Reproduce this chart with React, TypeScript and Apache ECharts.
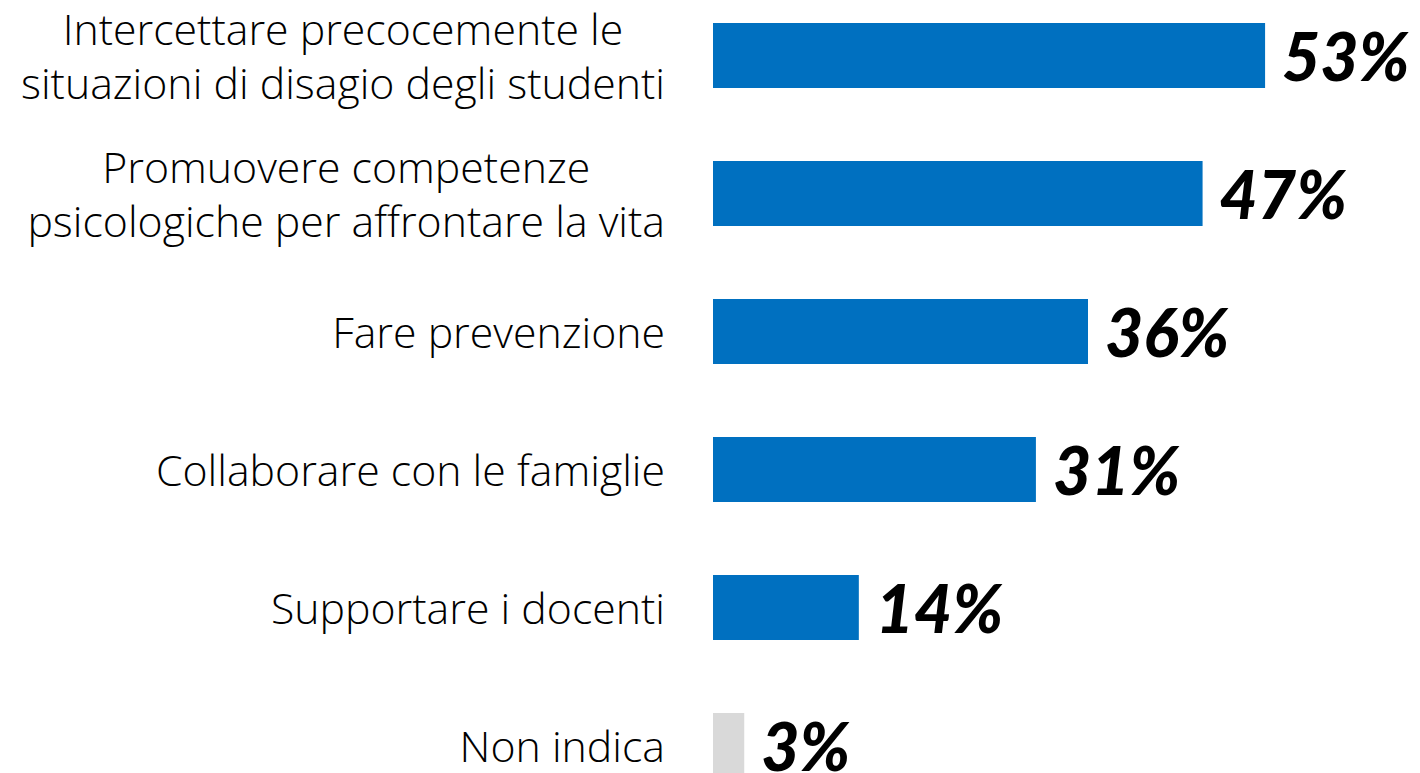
import React, { useEffect, useRef } from "react";
import * as echarts from "echarts";

const categories = [
  "Intercettare precocemente le\nsituazioni di disagio degli studenti",
  "Promuovere competenze\npsicologiche per affrontare la vita",
  "Fare prevenzione",
  "Collaborare con le famiglie",
  "Supportare i docenti",
  "Non indica",
];
const values = [53, 47, 36, 31, 14, 3];
const barColors = ["#0070C0", "#0070C0", "#0070C0", "#0070C0", "#0070C0", "#D9D9D9"];

export default function App() {
  const ref = useRef<HTMLDivElement>(null);
  useEffect(() => {
    if (!ref.current) return;
    const chart = echarts.init(ref.current, null, { renderer: "svg" });
    chart.setOption({
      animation: false,
      backgroundColor: "#ffffff",
      grid: {
        left: 713,
        right: 82,
        top: -13.5,
        bottom: -41.5,
        containLabel: false,
        outerBoundsMode: "none",
      },
      xAxis: {
        type: "value",
        min: 0,
        max: 60,
        show: false,
        splitLine: { show: false },
      },
      yAxis: {
        type: "category",
        inverse: true,
        data: categories,
        axisLine: { show: false },
        axisTick: { show: false },
        splitLine: { show: false },
        axisLabel: {
          margin: 48,
          align: "right",
          formatter: (v: string) =>
            v
              .split("\n")
              .map((l) => "{c|" + l + "}")
              .join("\n"),
          rich: {
            c: {
              align: "center",
              fontFamily: "Open Sans",
              fontWeight: 300,
              fontSize: 42.8,
              lineHeight: 54.5,
              color: "#000000",
            },
          },
        },
      },
      series: [
        {
          type: "bar",
          barWidth: 65,
          data: values.map((v, i) => ({ value: v, itemStyle: { color: barColors[i] } })),
          label: {
            show: true,
            position: "right",
            distance: 17,
            formatter: "{c}%",
            fontFamily: "Lato",
            fontWeight: 900,
            fontStyle: "italic",
            fontSize: 66,
            lineHeight: 50,
            color: "#000000",
          },
        },
      ],
    });
    return () => chart.dispose();
  }, []);
  return (
    <div
      ref={ref}
      style={{ position: "fixed", left: 0, top: 0, width: 1420, height: 773, background: "#fff" }}
    />
  );
}
